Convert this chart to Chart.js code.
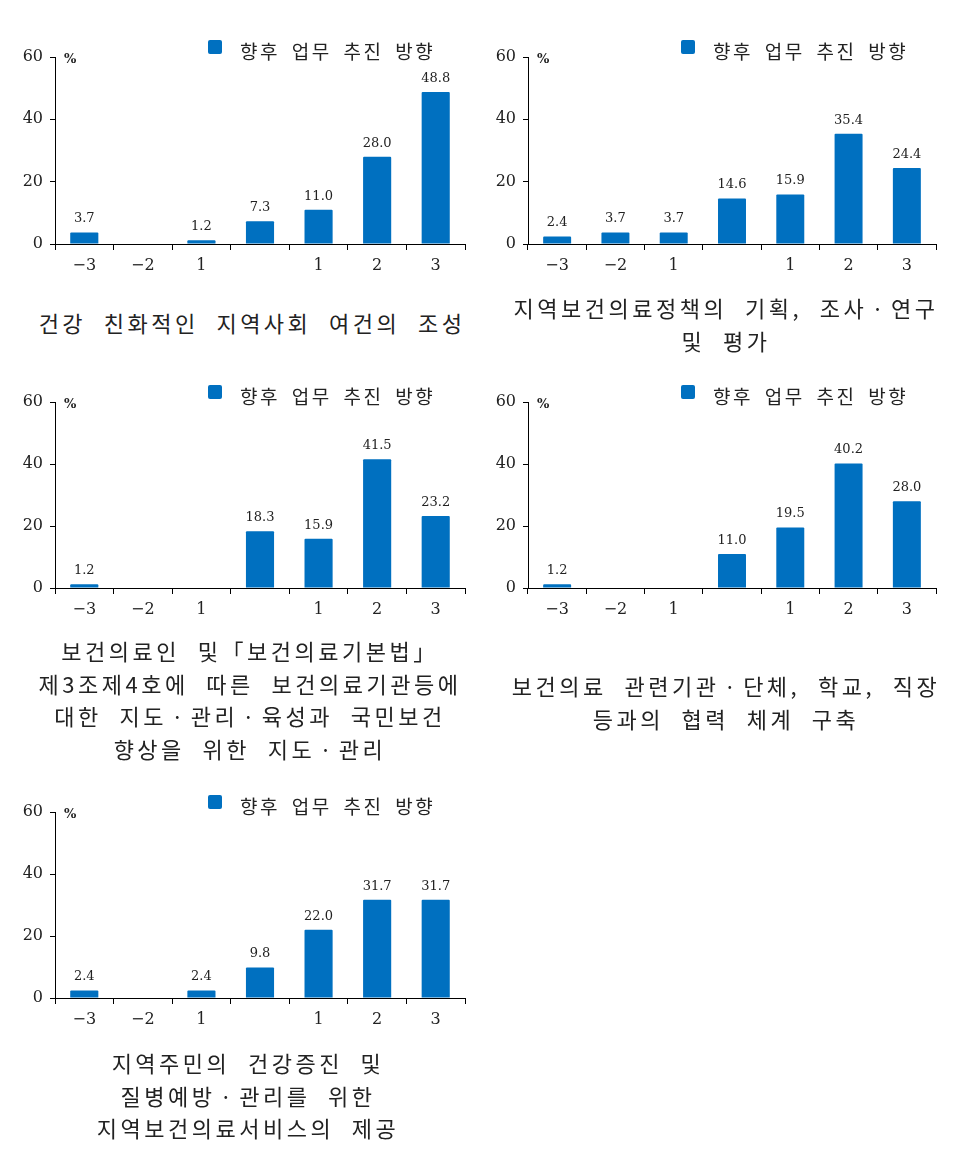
<!DOCTYPE html>
<html lang="ko">
<head>
<meta charset="utf-8">
<title>향후 업무 추진 방향</title>
<script src="https://cdn.jsdelivr.net/npm/chart.js@4.4.1/dist/chart.umd.min.js"></script>
<style>
  body { margin: 0; background: #fff; width: 964px; height: 1153px; position: relative; overflow: hidden; }
  canvas { position: absolute; }
  .legend { position: absolute; font-family: "Noto Sans CJK KR", sans-serif; font-size: 19px; color: #222;
            letter-spacing: 2.5px; word-spacing: 4px; white-space: pre; line-height: 20px; }
  .legend i { position: absolute; left: -32px; top: -1px; width: 14px; height: 14px; background: #0070c0; border-radius: 2px; }
  .title { position: absolute; width: 500px; text-align: center; font-family: "Noto Sans CJK KR", sans-serif;
           font-size: 22px; line-height: 32.5px; color: #222; letter-spacing: 3.5px; word-spacing: 8px; white-space: pre; }
</style>
</head>
<body>
<script>
// 데이터
const categories = ["\u22123", "\u22122", "1", "", "1", "2", "3"];
const yTicks = [0, 20, 40, 60];
const seriesName = "향후 업무 추진 방향";

const values1 = [3.7, null, 1.2, 7.3, 11.0, 28.0, 48.8];
const values2 = [2.4, 3.7, 3.7, 14.6, 15.9, 35.4, 24.4];
const values3 = [1.2, null, null, 18.3, 15.9, 41.5, 23.2];
const values4 = [1.2, null, null, 11.0, 19.5, 40.2, 28.0];
const values5 = [2.4, null, 2.4, 9.8, 22.0, 31.7, 31.7];

const title1 = ["건강 친화적인 지역사회 여건의 조성"];
const title2 = ["지역보건의료정책의 기획, 조사ㆍ연구", "및 평가"];
const title3 = ["보건의료인 및「보건의료기본법」", "제3조제4호에 따른 보건의료기관등에", "대한 지도ㆍ관리ㆍ육성과 국민보건", "향상을 위한 지도ㆍ관리"];
const title4 = ["보건의료 관련기관ㆍ단체, 학교, 직장", "등과의 협력 체계 구축"];
const title5 = ["지역주민의 건강증진 및", "질병예방ㆍ관리를 위한", "지역보건의료서비스의 제공"];

// 배치 (차트 영역 위치)
const panels = [
  { values: values1, title: title1, ox: 0,   oy: 30,  left: 55,  right: 465, top: 57,  bottom: 244, titleY: 306, titleX: 2 },
  { values: values2, title: title2, ox: 480, oy: 30,  left: 528, right: 936, top: 57,  bottom: 244, titleY: 291, titleX: 476 },
  { values: values3, title: title3, ox: 0,   oy: 370, left: 55,  right: 465, top: 402, bottom: 588, titleY: 634, titleX: 0 },
  { values: values4, title: title4, ox: 480, oy: 370, left: 528, right: 936, top: 402, bottom: 588, titleY: 669, titleX: 476 },
  { values: values5, title: title5, ox: 0,   oy: 780, left: 55,  right: 465, top: 812, bottom: 998, titleY: 1046, titleX: -2 }
];

const serif = "'DejaVu Serif', serif";
const CW = 480, CH = 270;

// 막대 위 값 + % 표시
const labelPlugin = {
  id: 'valueLabels',
  afterDatasetsDraw(chart) {
    const ctx = chart.ctx;
    const meta = chart.getDatasetMeta(0);
    const data = chart.data.datasets[0].data;
    ctx.save();
    ctx.fillStyle = '#222';
    ctx.font = '13px ' + serif;
    ctx.textAlign = 'center';
    ctx.textBaseline = 'bottom';
    meta.data.forEach((bar, i) => {
      if (data[i] == null) return;
      ctx.fillText(data[i].toFixed(1), bar.x, bar.y - 7);
    });
    ctx.font = 'bold 13px ' + serif;
    ctx.textAlign = 'left';
    ctx.textBaseline = 'middle';
    ctx.fillText('%', chart.chartArea.left + 9, chart.scales.y.getPixelForValue(yTicks[yTicks.length - 1]) + 3);
    ctx.restore();
  }
};

panels.forEach(p => {
  const canvas = document.createElement('canvas');
  canvas.width = CW; canvas.height = CH;
  canvas.style.left = p.ox + 'px';
  canvas.style.top = p.oy + 'px';
  document.body.appendChild(canvas);

  new Chart(canvas.getContext('2d'), {
    type: 'bar',
    data: {
      labels: categories,
      datasets: [{
        label: seriesName,
        data: p.values,
        backgroundColor: '#0070c0',
        barPercentage: 0.48,
        categoryPercentage: 1.0,
        borderRadius: 1
      }]
    },
    options: {
      responsive: false,
      animation: false,
      devicePixelRatio: 1,
      layout: { padding: { left: 0, top: p.top - p.oy, right: p.ox + CW - p.right, bottom: 0 } },
      plugins: { legend: { display: false }, tooltip: { enabled: false } },
      scales: {
        x: {
          offset: true,
          grid: { offset: true, drawOnChartArea: false, tickLength: 6, color: '#000' },
          border: { color: '#000', width: 1 },
          ticks: { color: '#222', font: { family: serif, size: 16 }, padding: 6, maxRotation: 0 },
          afterFit(scale) { scale.height = p.oy + CH - p.bottom; }
        },
        y: {
          min: yTicks[0],
          max: yTicks[yTicks.length - 1],
          grid: { drawOnChartArea: false, tickLength: 5, color: '#000' },
          border: { color: '#000', width: 1 },
          ticks: { stepSize: yTicks[1] - yTicks[0], color: '#222', font: { family: serif, size: 16 }, padding: 7 },
          afterFit(scale) { scale.width = p.left - p.ox; }
        }
      }
    },
    plugins: [labelPlugin]
  });

  const lg = document.createElement('div');
  lg.className = 'legend';
  lg.style.left = (p.left + 185) + 'px';
  lg.style.top = (p.top - 16) + 'px';
  lg.innerHTML = '<i></i>' + seriesName;
  document.body.appendChild(lg);

  const t = document.createElement('div');
  t.className = 'title';
  t.style.left = p.titleX + 'px';
  t.style.top = p.titleY + 'px';
  t.textContent = p.title.join('\n');
  document.body.appendChild(t);
});
</script>
</body>
</html>
